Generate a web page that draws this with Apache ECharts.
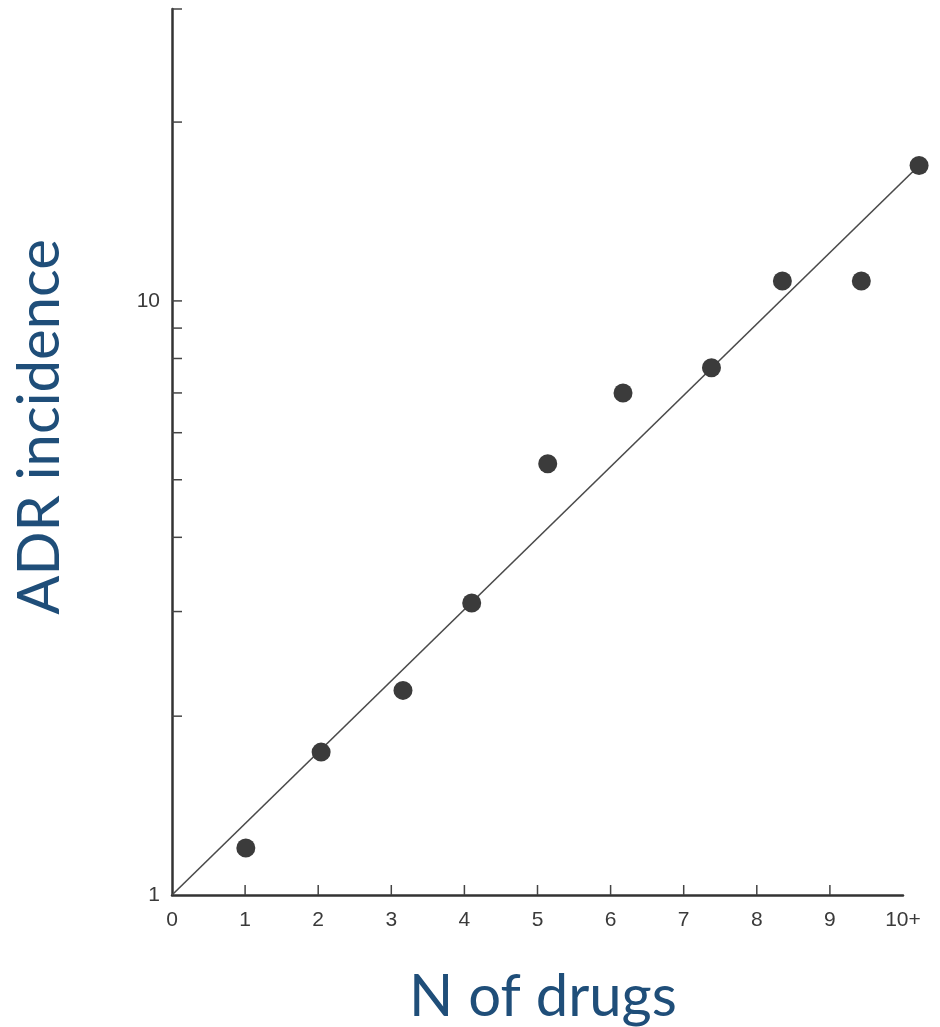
<!DOCTYPE html>
<html>
<head>
<meta charset="utf-8">
<script src="https://cdn.jsdelivr.net/npm/echarts@6/dist/echarts.min.js"></script>
<style>
  html, body { margin: 0; padding: 0; background: #ffffff; }
  #chart { width: 940px; height: 1027px; }
</style>
</head>
<body>
<div id="chart"></div>
<script>
// Data
const drugCounts   = [1.01, 2.04, 3.16, 4.10, 5.14, 6.17, 7.38, 8.35, 9.43, 10.22];
const adrIncidence = [1.20, 1.74, 2.21, 3.10, 5.32, 7.00, 7.72, 10.8, 10.8, 16.9];
const fitX = [0, 10.22];
const fitY = [1, 16.9];
const xTickValues = [1, 2, 3, 4, 5, 6, 7, 8, 9];
const xTickLabels = ['0', '1', '2', '3', '4', '5', '6', '7', '8', '9', '10+'];
const yTickValues = [2, 3, 4, 5, 6, 7, 8, 9, 10, 20, 31];
const yLabelValues = [1, 10];
const yMin = 1, yMax = 31, xMin = 0, xMax = 10;
const xTitle = 'N of drugs';
const yTitle = 'ADR incidence';

const chart = echarts.init(document.getElementById('chart'), null, { renderer: 'canvas' });

const axisColor = '#333333';
const labelFont = { fontFamily: 'Liberation Sans', fontSize: 21, color: '#3a3a3a' };

const option = {
  backgroundColor: '#ffffff',
  animation: false,
  grid: { left: 172, right: 37, top: 9, bottom: 132, containLabel: false },
  xAxis: {
    type: 'value', min: xMin, max: xMax, interval: 1,
    axisLine: { show: true, lineStyle: { color: axisColor, width: 2.5 } },
    axisTick: { show: false },
    splitLine: { show: false },
    axisLabel: Object.assign({
      margin: 15,
      formatter: v => xTickLabels[Math.round(v)] || ''
    }, labelFont)
  },
  yAxis: {
    type: 'log', logBase: 10, min: yMin, max: yMax,
    axisLine: { show: true, lineStyle: { color: axisColor, width: 2.5 } },
    axisTick: { show: false },
    splitLine: { show: false },
    minorTick: { show: false },
    axisLabel: Object.assign({
      margin: 12,
      formatter: v => (yLabelValues.some(t => Math.abs(t - v) < 1e-6) ? String(Math.round(v)) : '')
    }, labelFont)
  },
  graphic: [
    {
      type: 'text', x: 543, y: 997,
      style: {
        text: xTitle, fill: '#1F4E79',
        font: '58px Lato', textAlign: 'center', textVerticalAlign: 'middle'
      }
    },
    {
      type: 'text', x: 40, y: 427, rotation: Math.PI / 2,
      style: {
        text: yTitle, fill: '#1F4E79',
        font: '58px Lato', textAlign: 'center', textVerticalAlign: 'middle'
      }
    }
  ],
  series: [
    {
      type: 'custom', clip: false, silent: true,
      data: yTickValues.map(v => [xMin, v]),
      renderItem: (params, api) => {
        const p = api.coord([api.value(0), api.value(1)]);
        return { type: 'line', shape: { x1: p[0], y1: p[1], x2: p[0] + 10, y2: p[1] },
                 style: { stroke: '#444', lineWidth: 1.5 } };
      }
    },
    {
      type: 'custom', clip: false, silent: true,
      data: xTickValues.map(v => [v, yMin]),
      renderItem: (params, api) => {
        const p = api.coord([api.value(0), api.value(1)]);
        return { type: 'line', shape: { x1: p[0], y1: p[1], x2: p[0], y2: p[1] - 10 },
                 style: { stroke: '#444', lineWidth: 1.5 } };
      }
    },
    {
      type: 'custom', clip: false, silent: true,
      data: [[fitX[0], fitY[0], fitX[1], fitY[1]]],
      renderItem: (params, api) => {
        const a = api.coord([api.value(0), api.value(1)]);
        const b = api.coord([api.value(2), api.value(3)]);
        return { type: 'line', shape: { x1: a[0], y1: a[1], x2: b[0], y2: b[1] },
                 style: { stroke: '#4a4a4a', lineWidth: 1.6 } };
      }
    },
    {
      type: 'scatter', clip: false,
      data: drugCounts.map((x, i) => [x, adrIncidence[i]]),
      symbol: 'circle', symbolSize: 19,
      itemStyle: { color: '#3b3b3b', opacity: 1 }
    }
  ]
};

chart.setOption(option);
</script>
</body>
</html>
